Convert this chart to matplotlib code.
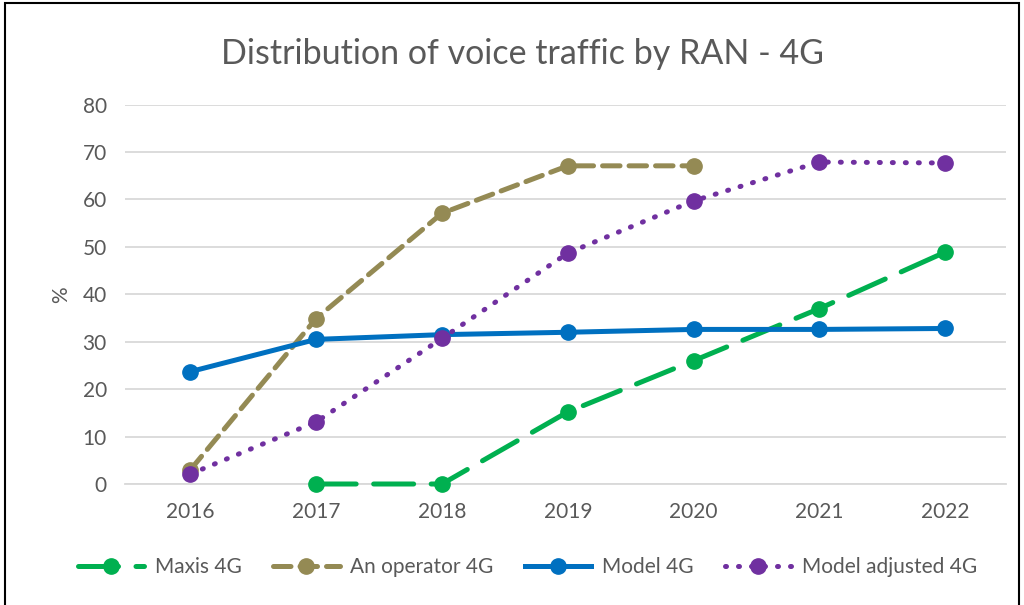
import matplotlib.pyplot as plt
from matplotlib.patches import Rectangle

years = ["2016", "2017", "2018", "2019", "2020", "2021", "2022"]

maxis_years = [1, 2, 3, 4, 5, 6]
maxis_4g = [0, 0, 15.2, 26, 37, 48.9]

operator_years = [0, 1, 2, 3, 4]
operator_4g = [3, 34.9, 57.1, 67.1, 67.1]

model_4g = [23.7, 30.5, 31.5, 32, 32.6, 32.6, 32.8]

adjusted_4g = [2.1, 13.1, 30.7, 48.7, 59.7, 67.9, 67.7]

plt.rcParams['font.family'] = ['Lato', 'DejaVu Sans']
grey = '#595959'

fig = plt.figure(figsize=(10.24, 6.05), dpi=100)
ax = fig.add_axes([0.122, 0.2, 0.86, 0.627])

idx = list(range(len(years)))
ax.plot(maxis_years, maxis_4g, color='#00b050', lw=3.6, dashes=(8, 3.5),
        dash_capstyle='round', marker='o', ms=11, label='Maxis 4G', zorder=3)
ax.plot(operator_years, operator_4g, color='#948a54', lw=3.6, dashes=(3.5, 1.8),
        dash_capstyle='round', marker='o', ms=11, label='An operator 4G', zorder=3)
ax.plot(idx, model_4g, color='#0070c0', lw=3.6, marker='o', ms=11,
        label='Model 4G', zorder=3)
ax.plot(idx, adjusted_4g, color='#7030a0', lw=3.6, dashes=(0.2, 2.4),
        dash_capstyle='round', marker='o', ms=11, label='Model adjusted 4G', zorder=3)

ax.set_xlim(-0.52, 6.48)
ax.set_ylim(0, 80)
ax.set_yticks(range(0, 81, 10))
ax.set_xticks(idx)
ax.set_xticklabels(years)
ax.grid(axis='y', color='#d9d9d9', lw=1.3)
ax.set_axisbelow(True)
for s in ax.spines.values():
    s.set_visible(False)
ax.spines['bottom'].set_visible(True)
ax.spines['bottom'].set_color('#d9d9d9')
ax.spines['bottom'].set_linewidth(1.3)
ax.tick_params(length=0, labelsize=15, labelcolor=grey, pad=13)
ax.set_ylabel('%', fontsize=15, color=grey, labelpad=8)
for ln in ax.lines:
    ln.set_clip_on(False)

fig.text(0.51, 0.91, 'Distribution of voice traffic by RAN - 4G',
         ha='center', va='center', fontsize=24.5, color=grey)

leg = fig.legend(loc='center', bbox_to_anchor=(0.515, 0.062), ncol=4,
                 frameon=False, fontsize=15, handlelength=3.2,
                 columnspacing=1.5, handletextpad=0.5)
for t in leg.get_texts():
    t.set_color(grey)

fig.patches.append(Rectangle((0.005, -0.05), 0.99, 1.045, transform=fig.transFigure,
                             fill=False, edgecolor='black', lw=1.5))

fig.savefig('out.png', dpi=100)
